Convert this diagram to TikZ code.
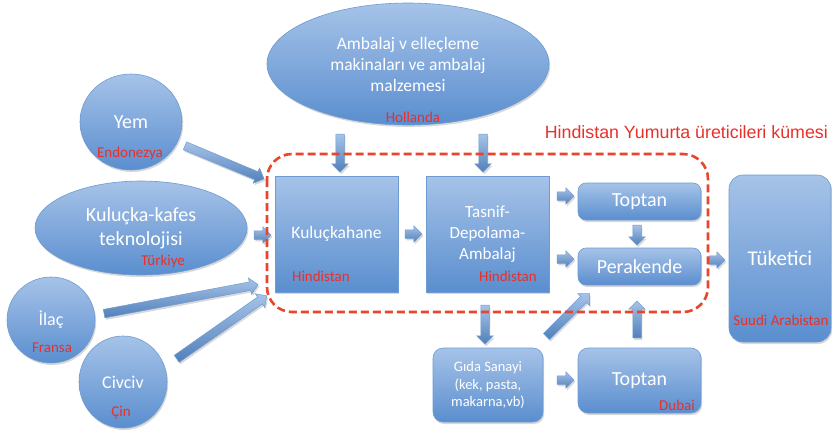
\documentclass[tikz,border=0pt]{standalone}
\usepackage{fontspec}
\setmainfont{Carlito}
\newfontfamily\titlefont{Liberation Sans}
\usetikzlibrary{shapes.geometric,shapes.arrows,shadows,calc}
\definecolor{topc}{HTML}{A6C3E8}
\definecolor{botc}{HTML}{5A8ECF}
\definecolor{bdr}{HTML}{6E9BD2}
\definecolor{lblred}{HTML}{E8302A}
\definecolor{dashred}{HTML}{E8452C}
\tikzset{
  shad/.style={drop shadow={shadow xshift=1.2pt, shadow yshift=-2pt, opacity=0.22, fill=black!70}},
  blob/.style={draw=bdr, line width=0.6pt, top color=topc, bottom color=botc, text=white, inner sep=0pt, align=center, shad},
  oval/.style={blob, ellipse},
  sqbox/.style={blob, rectangle},
  rbox/.style={blob, rectangle, rounded corners=8pt},
  lbl/.style={text=lblred, font=\fontsize{15}{17}\selectfont, inner sep=0pt},
  big/.style={font=\fontsize{20}{24}\selectfont},
  mid/.style={font=\fontsize{17.5}{21}\selectfont},
  barrow/.style={single arrow, draw=bdr, line width=0.5pt, top color=topc, bottom color=botc!90!black, inner xsep=0pt, inner ysep=4pt, single arrow head extend=4pt, single arrow tip angle=90, shad}
}
\newcommand{\barr}[2]{\path let \p1=#1, \p2=#2, \n1={atan2(\y2-\y1,\x2-\x1)}, \n2={veclen(\x2-\x1,\y2-\y1)} in node[barrow, minimum height=\n2, rotate=\n1] at ($(\p1)!0.5!(\p2)$) {};}
\begin{document}
\begin{tikzpicture}[x=1pt,y=-1pt]
\useasboundingbox (0,0) rectangle (832,431);
% ovals
\node[oval, minimum width=282, minimum height=122, mid] (amb) at (408,64) {Ambalaj v elleçleme\\makinaları ve ambalaj\\malzemesi};
\node[lbl] (lhol) at (413,117) {Hollanda};
\node[oval, minimum width=102, minimum height=96, big] (yem) at (131,122) {Yem};
\node[lbl] (lend) at (130,153) {Endonezya};
\node[oval, minimum width=212, minimum height=94, big] (kaf) at (141,228) {Kuluçka-kafes\\teknolojisi};
\node[lbl] (ltur) at (163,261) {Türkiye};
\node[oval, minimum width=88, minimum height=86, font=\fontsize{18}{21}\selectfont] (ilac) at (51,320) {İlaç};
\node[lbl] (lfra) at (52,348) {Fransa};
\node[oval, minimum width=88, minimum height=92, font=\fontsize{18}{21}\selectfont] (civ) at (123,382) {Civciv};
\node[lbl] (lcin) at (121,413) {Çin};
% boxes
\node[sqbox, minimum width=123, minimum height=116, mid] (khane) at (336.5,234) {Kuluçkahane};
\node[lbl] (lhin1) at (321,276) {Hindistan};
\node[sqbox, minimum width=123, minimum height=116, font=\fontsize{17}{21}\selectfont] (tas) at (487.5,234) {Tasnif-\\Depolama-\\Ambalaj};
\node[lbl] (lhin2) at (508,276) {Hindistan};
\node[rbox, minimum width=123, minimum height=37, big] (top1) at (639.5,201.5) {Toptan};
\node[rbox, minimum width=123, minimum height=37, big] (per) at (639.5,266.5) {Perakende};
\node[rbox, rounded corners=14pt, minimum width=102, minimum height=167, font=\fontsize{21}{24}\selectfont] (tuk) at (780,258.5) {Tüketici};
\node[lbl] (lsuu) at (781,320) {Suudi Arabistan};
\node[rbox, rounded corners=10pt, minimum width=110, minimum height=74, font=\fontsize{14.5}{17.5}\selectfont] (gida) at (488,385) {Gıda Sanayi\\(kek, pasta,\\makarna,vb)};
\node[rbox, rounded corners=10pt, minimum width=123, minimum height=65, big] (top2) at (639.5,380.5) {Toptan};
\node[lbl] (ldub) at (677,405) {Dubai};
% block arrows
\barr{(183,145)}{(262,178)}
\barr{(252,235)}{(269,235)}
\barr{(102,314)}{(256,285)}
\barr{(175,360)}{(265,297)}
\barr{(340,132)}{(340,170)}
\barr{(483,132)}{(483,170)}
\barr{(403,234)}{(420,234)}
\barr{(555,196)}{(572,196)}
\barr{(555,259)}{(572,259)}
\barr{(637,223)}{(637,243)}
\barr{(707,260)}{(723,260)}
\barr{(485,303)}{(485,342)}
\barr{(545,338)}{(588,295)}
\barr{(555,380)}{(572,380)}
\barr{(637,340)}{(637,303)}
% cluster
\draw[dashred, line width=2.6pt, dash pattern=on 8pt off 4pt, rounded corners=25pt] (267,154) rectangle (708,312);
\node[anchor=east, text=lblred, font=\titlefont\fontsize{17.8}{20}\selectfont, inner sep=0pt] (title) at (828,132) {Hindistan Yumurta üreticileri kümesi};
\end{tikzpicture}
\end{document}
